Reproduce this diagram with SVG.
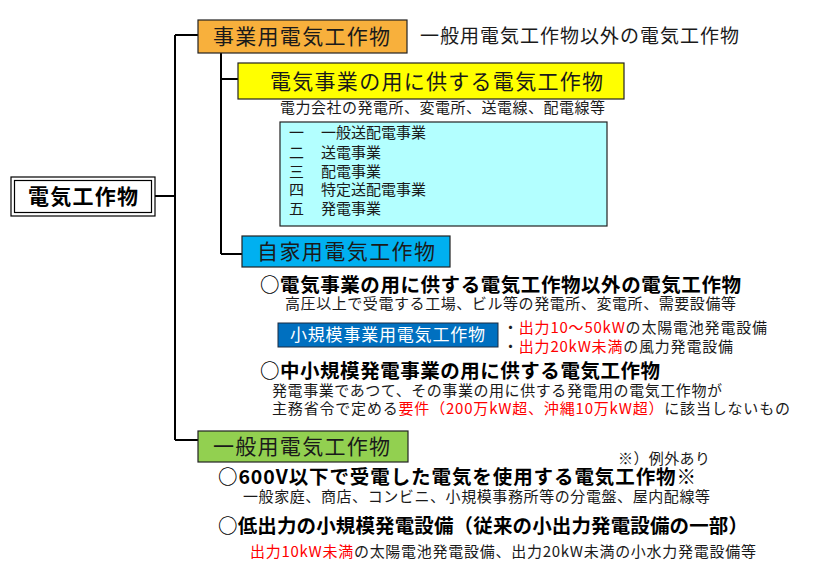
<svg xmlns="http://www.w3.org/2000/svg" width="823" height="574" viewBox="0 0 823 574">
<style>
text{font-family:"Noto Sans CJK JP","Noto Sans CJK SC",sans-serif;fill:#1a1a1a}
.box{stroke:#222;stroke-width:1.2}
.bt{font-size:21px}
.s{font-size:15px}
.b{font-size:19.5px;font-weight:bold;fill:#000}
.r{fill:#ff0000}
.conn{fill:none;stroke:#000;stroke-width:2}
</style>
<rect width="823" height="574" fill="#fff"/>
<g id="connectors">
<path class="conn" d="M155,196 H175 M175,35 V440 M175,35 H198 M175,440 H198"/>
<path class="conn" d="M221,53 V254 M221,79 H238 M221,254 H242"/>
</g>
<g id="node-root">
<rect x="11" y="177" width="144" height="39" fill="#fff" stroke="#000" stroke-width="1.2"/>
<rect x="14.5" y="180.5" width="137" height="32" fill="none" stroke="#000" stroke-width="1.2"/>
<text x="83" y="204" text-anchor="middle" style="font-size:21px;font-weight:bold;fill:#000" textLength="110">電気工作物</text>
</g>
<g id="node-jigyo">
<rect class="box" x="198" y="20" width="209" height="33" fill="#F8B03C"/>
<text class="bt" x="213" y="44" textLength="177">事業用電気工作物</text>
<text x="420" y="43" style="font-size:19px" textLength="319">一般用電気工作物以外の電気工作物</text>
</g>
<g id="node-denki-jigyo">
<rect class="box" x="238" y="63" width="386" height="36" fill="#FFFF00"/>
<text class="bt" x="270" y="89" textLength="333">電気事業の用に供する電気工作物</text>
<text class="s" x="280" y="113" textLength="325">電力会社の発電所、変電所、送電線、配電線等</text>
</g>
<g id="node-list">
<rect class="box" x="280" y="122" width="327" height="104" fill="#B3FFFF"/>
<text class="s" x="289" y="138">一</text><text class="s" x="321" y="138">一般送配電事業</text>
<text class="s" x="289" y="158">二</text><text class="s" x="321" y="158">送電事業</text>
<text class="s" x="289" y="177">三</text><text class="s" x="321" y="177">配電事業</text>
<text class="s" x="289" y="195">四</text><text class="s" x="321" y="195">特定送配電事業</text>
<text class="s" x="289" y="214">五</text><text class="s" x="321" y="214">発電事業</text>
</g>
<g id="node-jika">
<rect class="box" x="242" y="236" width="208" height="31" fill="#00B0F0"/>
<text class="bt" x="257" y="259" textLength="178">自家用電気工作物</text>
<text class="b" x="260" y="292" textLength="481">○電気事業の用に供する電気工作物以外の電気工作物</text>
<text class="s" x="285" y="309" textLength="451">高圧以上で受電する工場、ビル等の発電所、変電所、需要設備等</text>
</g>
<g id="node-shokibo">
<rect x="278" y="323" width="220" height="24" fill="#0070C0" stroke="#1a2a40" stroke-width="1"/>
<text x="290" y="341" style="font-size:17px;fill:#fff" textLength="195">小規模事業用電気工作物</text>
<text class="s" x="503" y="333" textLength="264">・<tspan class="r">出力10～50kW</tspan>の太陽電池発電設備</text>
<text class="s" x="503" y="352" textLength="230">・<tspan class="r">出力20kW未満</tspan>の風力発電設備</text>
</g>
<g id="node-chusho">
<text class="b" x="260" y="378" textLength="400">○中小規模発電事業の用に供する電気工作物</text>
<text class="s" x="272" y="396" textLength="450">発電事業であつて、その事業の用に供する発電用の電気工作物が</text>
<text class="s" x="272" y="414" textLength="518">主務省令で定める<tspan class="r">要件（200万kW超、沖縄10万kW超）</tspan>に該当しないもの</text>
</g>
<g id="node-ippan">
<rect class="box" x="198" y="431" width="210" height="31" fill="#92D050"/>
<text class="bt" x="213" y="454" textLength="177">一般用電気工作物</text>
<text class="s" x="618" y="464" textLength="92">※）例外あり</text>
<text class="b" x="218" y="484" textLength="478">○600V以下で受電した電気を使用する電気工作物※</text>
<text class="s" x="243" y="502" textLength="467">一般家庭、商店、コンビニ、小規模事務所等の分電盤、屋内配線等</text>
<text class="b" x="218" y="533" textLength="530">○低出力の小規模発電設備（従来の小出力発電設備の一部）</text>
<text class="s" x="250" y="557" textLength="506"><tspan class="r">出力10kW未満</tspan>の太陽電池発電設備、出力20kW未満の小水力発電設備等</text>
</g>
</svg>
